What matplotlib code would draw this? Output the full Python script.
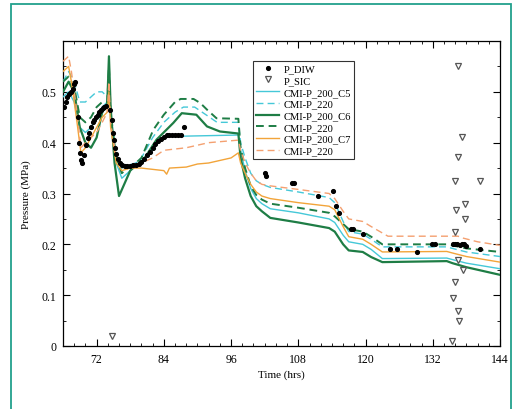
import matplotlib
matplotlib.use("Agg")
import matplotlib.pyplot as plt
from matplotlib.patches import Rectangle
from matplotlib.ticker import MultipleLocator

# ---------------- data ----------------
diw_t = [66.2, 66.5, 66.8, 67.1, 67.4, 67.7, 68.0, 68.2,
         68.6, 68.8, 69.0, 69.2, 69.4,
         69.8, 70.1, 70.4, 70.7, 71.0, 71.3, 71.6, 71.9, 72.2, 72.5, 72.8, 73.1, 73.4, 73.7,
         74.4, 74.7, 74.9, 75.1, 75.3, 75.5, 75.8, 76.1,
         76.5, 77.0, 77.5, 78.0, 78.5, 79.0, 79.5,
         80.0, 80.5, 81.0, 81.5, 82.0, 82.5, 83.0, 83.5, 84.0,
         84.5, 85.0, 85.5, 86.0, 86.5, 87.0, 87.6,
         102.0, 102.3, 106.8, 107.3, 111.5, 114.2, 114.8, 115.3, 117.4, 117.8, 119.6,
         124.4, 125.6, 129.2, 131.8, 132.4, 135.6, 136.0, 136.4, 136.8, 137.2, 137.6, 138.0, 140.4]
diw_v = [0.470, 0.480, 0.490, 0.495, 0.500, 0.505, 0.515, 0.520,
         0.450, 0.400, 0.380, 0.365, 0.360,
         0.375, 0.395, 0.410, 0.420, 0.430, 0.440, 0.445, 0.450, 0.455, 0.460, 0.465, 0.468, 0.470, 0.472,
         0.465, 0.445, 0.420, 0.405, 0.390, 0.378, 0.368, 0.360,
         0.357, 0.355, 0.355, 0.355, 0.356, 0.357, 0.358,
         0.362, 0.368, 0.375, 0.382, 0.390, 0.397, 0.403, 0.408, 0.412,
         0.415, 0.415, 0.415, 0.415, 0.415, 0.415, 0.430,
         0.340, 0.335, 0.320, 0.320, 0.295, 0.305, 0.275, 0.262, 0.230, 0.230, 0.220,
         0.190, 0.190, 0.185, 0.200, 0.200, 0.200, 0.200, 0.200, 0.198, 0.200, 0.200, 0.197, 0.190]

sic_t = [74.7, 136.5, 137.2, 136.5, 136.0, 140.5, 136.2, 137.8, 137.8, 136.0,
         136.5, 137.4, 136.0, 135.6, 136.5, 136.7, 135.5]
sic_v = [0.020, 0.550, 0.412, 0.372, 0.325, 0.325, 0.268, 0.280, 0.250, 0.225,
         0.170, 0.150, 0.125, 0.095, 0.068, 0.050, 0.010]

c5_t = [66, 67, 68, 69, 70, 71, 72, 73, 73.9, 74.2, 74.5, 75.5, 76.5, 77.5, 79, 81, 84,
        97.3, 97.7, 98.5, 99.5, 100.5, 101.5, 103, 108, 113.5, 114.5, 116, 117, 119.5,
        121, 123, 134.5, 135.5, 138, 144]
c5_v = [0.490, 0.500, 0.480, 0.430, 0.420, 0.430, 0.450, 0.470, 0.480, 0.530, 0.450, 0.360,
        0.330, 0.340, 0.355, 0.375, 0.412,
        0.415, 0.385, 0.345, 0.310, 0.290, 0.280, 0.270, 0.262, 0.250, 0.243, 0.218, 0.205,
        0.200, 0.190, 0.172, 0.173, 0.170, 0.163, 0.152]

c5b_t = [66, 67, 68, 69, 70, 71, 72, 73, 73.9, 74.2, 74.5, 75.5, 76.5, 77.5, 79, 80, 82, 84,
         86, 87.5, 89.5, 91.5, 93.5,
         97.3, 97.7, 98.5, 99.5, 100.5, 101.5, 103, 108, 113.5, 114.5, 116, 117, 119.5,
         121, 123, 134.5, 135.5, 138, 144]
c5b_v = [0.520, 0.540, 0.520, 0.480, 0.480, 0.490, 0.500, 0.500, 0.490, 0.540, 0.460, 0.370,
         0.350, 0.355, 0.360, 0.370, 0.410, 0.440,
         0.460, 0.470, 0.470, 0.455, 0.440,
         0.440, 0.400, 0.370, 0.340, 0.325, 0.318, 0.312, 0.303, 0.292, 0.282, 0.245, 0.225,
         0.220, 0.210, 0.195, 0.195, 0.192, 0.185, 0.176]

c6_t = [66, 67, 68, 69, 70, 71, 72, 73, 73.9, 74.2, 74.5, 75.2, 76, 77, 78, 79, 80, 82.7,
        85.7, 87.2, 89.8, 91.7, 94,
        97.3, 97.7, 98.5, 99.5, 100.5, 101.5, 103, 108, 113.5, 114.5, 116, 117, 119.5,
        121, 123, 134.5, 135.5, 138, 144]
c6_v = [0.500, 0.520, 0.500, 0.430, 0.400, 0.390, 0.410, 0.460, 0.475, 0.570, 0.470, 0.360,
        0.295, 0.320, 0.345, 0.355, 0.360, 0.406,
        0.439, 0.458, 0.455, 0.432, 0.422,
        0.418, 0.370, 0.330, 0.295, 0.275, 0.265, 0.252, 0.243, 0.232, 0.225, 0.200, 0.188,
        0.185, 0.175, 0.165, 0.167, 0.163, 0.155, 0.140]

c6b_t = [66, 67, 68, 69, 70, 71, 72, 73, 73.9, 74.2, 74.5, 75.5, 76.5, 77.5, 79, 80, 82.1, 84,
         86, 87, 89.3, 90.5, 91.7, 93.4,
         97.3, 97.7, 98.5, 99.5, 100.5, 101.5, 103, 108, 113.5, 114.5, 116, 117, 119.5,
         121, 123, 134.5, 135.5, 138, 144]
c6b_v = [0.520, 0.530, 0.510, 0.450, 0.440, 0.450, 0.470, 0.480, 0.480, 0.550, 0.460, 0.370,
         0.340, 0.350, 0.360, 0.370, 0.425, 0.455,
         0.480, 0.486, 0.486, 0.478, 0.465, 0.448,
         0.447, 0.390, 0.350, 0.315, 0.297, 0.288, 0.280, 0.272, 0.262, 0.255, 0.240, 0.230,
         0.225, 0.215, 0.200, 0.200, 0.198, 0.192, 0.185]

c7_t = [66, 67, 67.5, 68.5, 69.2, 70, 71, 72, 73, 73.9, 74.2, 74.5, 75.5, 76.5, 78, 80,
        84, 84.5, 85, 88, 90, 92, 96,
        97.3, 97.7, 98.5, 99.5, 100.5, 101.5, 103, 108, 113.5, 114.5, 116, 117, 119.5,
        121, 123, 134.5, 135.5, 138, 144]
c7_v = [0.540, 0.550, 0.520, 0.440, 0.380, 0.390, 0.410, 0.430, 0.450, 0.460, 0.500, 0.430,
        0.360, 0.345, 0.350, 0.350,
        0.345, 0.338, 0.350, 0.352, 0.358, 0.360, 0.370,
        0.380, 0.360, 0.340, 0.318, 0.303, 0.295, 0.290, 0.282, 0.275, 0.268, 0.235, 0.215,
        0.210, 0.200, 0.185, 0.186, 0.183, 0.176, 0.165]

c7b_t = [66, 67, 67.5, 68.5, 69.2, 70, 71, 72, 73, 73.9, 74.2, 74.5, 75.5, 76.5, 78, 80,
         82, 84, 88, 92,
         97.3, 97.7, 98.5, 99.5, 100.5, 101.5, 103, 108, 113.5, 114.5, 116, 117, 119.5,
         121, 124, 136.5, 137.5, 140, 144]
c7b_v = [0.560, 0.570, 0.540, 0.460, 0.390, 0.400, 0.410, 0.420, 0.440, 0.460, 0.520, 0.440,
         0.370, 0.350, 0.355, 0.360,
         0.370, 0.385, 0.390, 0.400,
         0.405, 0.385, 0.360, 0.340, 0.325, 0.318, 0.315, 0.308, 0.300, 0.290, 0.265, 0.250,
         0.245, 0.235, 0.216, 0.216, 0.212, 0.205, 0.198]

labels = ["P_DIW", "P_SIC", "CMI-P_200_C5", "CMI-P_220", "CMI-P_200_C6",
          "CMI-P_220", "CMI-P_200_C7", "CMI-P_220"]
x_ticks = [72, 84, 96, 108, 120, 132, 144]
y_ticks = [0, 0.1, 0.2, 0.3, 0.4, 0.5]
y_tick_labels = ["0", "0.1", "0.2", "0.3", "0.4", "0.5"]

# ---------------- figure ----------------
plt.rcParams['font.family'] = ['Liberation Serif', 'DejaVu Serif']
fig = plt.figure(figsize=(5.14, 4.10), dpi=100)
W, H = 514, 410
ax = fig.add_axes([63 / W, 1 - 347 / H, 437 / W, 305 / H])

cyan = "#45c8d8"
green = "#1e7d45"
orange = "#f2a43a"
salmon = "#f4a070"

ax.plot(c5_t, c5_v, color=cyan, lw=1.0, ls='-', label=labels[2], zorder=3)
ax.plot(c5b_t, c5b_v, color=cyan, lw=1.0, ls=(0, (5, 3)), label=labels[3], zorder=3)
ax.plot(c6_t, c6_v, color=green, lw=1.6, ls='-', label=labels[4], zorder=3)
ax.plot(c6b_t, c6b_v, color=green, lw=1.4, ls=(0, (4, 2.5)), label=labels[5], zorder=3)
ax.plot(c7_t, c7_v, color=orange, lw=1.0, ls='-', label=labels[6], zorder=3)
ax.plot(c7b_t, c7b_v, color=salmon, lw=1.0, ls=(0, (5, 3)), label=labels[7], zorder=3)

ax.plot(diw_t, diw_v, ls='none', marker='o', ms=2.7, mfc='black', mec='black',
        label=labels[0], zorder=4)
ax.plot(sic_t, sic_v, ls='none', marker='v', ms=4.5, mfc='white', mec='#555555',
        mew=0.9, label=labels[1], zorder=4)

# reorder legend
h, l = ax.get_legend_handles_labels()
order = [6, 7, 0, 1, 2, 3, 4, 5]
leg = ax.legend([h[i] for i in order], [l[i] for i in order],
                loc='upper left', bbox_to_anchor=(0.435, 0.935), frameon=True,
                fancybox=False, edgecolor='black', fontsize=7.6, handlelength=2.2,
                handletextpad=0.4, borderpad=0.3, labelspacing=0.22, borderaxespad=0)
leg.get_frame().set_linewidth(0.8)

ax.set_xlim(66, 144)
ax.set_ylim(0, 0.6)
ax.set_xticks(x_ticks)
ax.set_yticks(y_ticks)
ax.set_yticklabels(y_tick_labels)
ax.xaxis.set_minor_locator(MultipleLocator(2))
ax.yaxis.set_minor_locator(MultipleLocator(0.05))
ax.tick_params(which='both', direction='in', top=True, right=True, labelsize=8.5)
ax.tick_params(which='major', length=5, width=0.8, pad=5)
ax.tick_params(which='minor', length=2.5, width=0.6)
for s in ax.spines.values():
    s.set_linewidth(0.9)

ax.set_xlabel("Time (hrs)", fontsize=8, labelpad=3)
ax.set_ylabel("Pressure (MPa)", fontsize=8, labelpad=7)

# outer teal frame
fig.patches.append(Rectangle((11 / W, -0.05), (511 - 11) / W, 1 - 5 / H + 0.05,
                             transform=fig.transFigure, fill=False,
                             edgecolor="#22a08c", lw=1.3))

fig.savefig("out.png", dpi=100)
